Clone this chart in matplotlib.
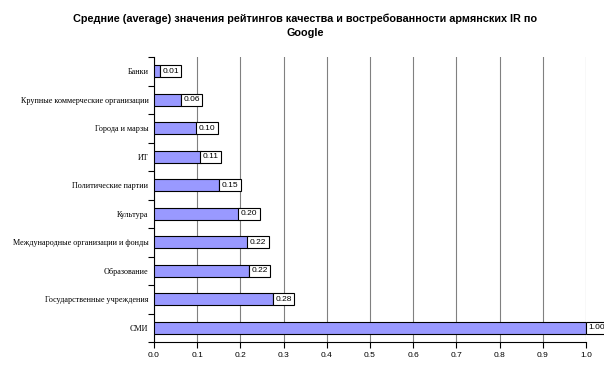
import matplotlib.pyplot as plt
import numpy as np

categories = [
    "Банки",
    "Крупные коммерческие организации",
    "Города и марзы",
    "ИТ",
    "Политические партии",
    "Культура",
    "Международные организации и фонды",
    "Образование",
    "Государственные учреждения",
    "СМИ",
]
values = [0.014, 0.063, 0.099, 0.108, 0.151, 0.196, 0.217, 0.22, 0.276, 1.0]
xticks = [0.0, 0.1, 0.2, 0.3, 0.4, 0.5, 0.6, 0.7, 0.8, 0.9, 1.0]

fig = plt.figure(figsize=(6.04, 3.72), dpi=100, facecolor="white")
ax = fig.add_axes([154 / 604, 1 - 342 / 372, 432 / 604, 285 / 372])

y = np.arange(len(categories))
ax.barh(y, values, height=0.42, color="#9999ff", edgecolor="black", linewidth=0.8, zorder=3)

# подписи значений
for yi, v in zip(y, values):
    ax.text(v + 0.005, yi, f"{v:.2f}", va="center", ha="left", fontsize=6,
            family="Liberation Sans", zorder=4, clip_on=False,
            bbox=dict(boxstyle="square,pad=0.3", facecolor="white", edgecolor="black", linewidth=0.8))

ax.set_xlim(0, 1.0)
ax.set_ylim(len(categories) - 0.5, -0.5)
ax.set_xticks(xticks)
ax.set_xticklabels([f"{t:.1f}" for t in xticks], fontsize=6, family="Liberation Sans")
ax.set_yticks(y)
ax.set_yticklabels(categories, fontsize=5.9, family="Liberation Serif")
ax.set_yticks(np.arange(len(categories) + 1) - 0.5, minor=True)
ax.tick_params(axis="y", which="major", length=0, pad=4)
ax.tick_params(axis="y", which="minor", length=4, width=0.8, direction="out")
ax.tick_params(axis="x", length=4, width=0.8, direction="out", pad=3)

ax.grid(axis="x", color="#808080", linewidth=0.8, zorder=0)
ax.spines["top"].set_visible(False)
ax.spines["right"].set_visible(False)
ax.spines["left"].set_linewidth(0.8)
ax.spines["bottom"].set_linewidth(0.8)

fig.text(305 / 604, 1 - 26 / 372,
         "Средние (average) значения рейтингов качества и востребованности армянских IR по\nGoogle",
         ha="center", va="center", fontsize=7.8, fontweight="bold", family="Liberation Sans",
         linespacing=1.5)

fig.savefig("out.png", dpi=100, facecolor="white")
